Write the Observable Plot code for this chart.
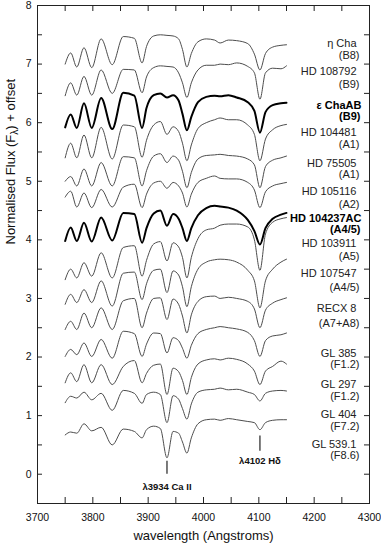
<!DOCTYPE html>
<html>
<head>
<meta charset="utf-8">
<script src="https://cdn.jsdelivr.net/npm/d3@7"></script>
<script src="https://cdn.jsdelivr.net/npm/@observablehq/plot@0.6"></script>
<style>
  html, body { margin: 0; padding: 0; background: #fff; }
  #chart svg { display: block; }
</style>
</head>
<body>
<div id="chart"></div>
<script>
// Wavelength sample points (Angstroms), shared by all spectra
const wave = [3750, 3760, 3771, 3784, 3798, 3815, 3835, 3855, 3875, 3889, 3897, 3910, 3922, 3934, 3945, 3955,
              3962, 3970, 3978, 3990, 4005, 4020, 4030, 4045, 4060, 4080, 4092, 4102, 4112, 4125, 4140, 4150];

// Normalised flux + offset
const fEtaCha   = [7.00,7.19,6.95,7.28,6.94,7.43,6.99,7.47,7.44,7.02,7.30,7.48,7.50,7.49,7.48,7.43,7.25,6.95,7.18,7.38,7.43,7.41,7.36,7.41,7.40,7.35,7.17,6.90,7.18,7.29,7.32,7.33];
const fHD108792 = [6.46,6.68,6.47,6.79,6.47,6.90,6.50,6.91,6.90,6.51,6.78,6.94,6.97,6.96,6.95,6.85,6.68,6.43,6.68,6.90,6.98,6.98,7.00,6.99,7.02,6.96,6.85,6.40,6.85,6.93,6.92,6.97];
const fEpsCha   = [5.92,6.14,5.91,6.33,5.91,6.42,5.89,6.51,6.46,5.91,6.25,6.47,6.50,6.43,6.47,6.38,6.15,5.87,6.10,6.35,6.44,6.46,6.45,6.47,6.43,6.35,6.20,5.83,6.18,6.30,6.33,6.34];
const fHD104481 = [5.40,5.65,5.40,5.79,5.40,5.92,5.38,5.96,5.93,5.41,5.70,5.96,6.02,5.80,5.93,5.85,5.65,5.35,5.62,5.90,6.00,6.05,6.08,6.05,6.05,5.96,5.80,5.35,5.72,5.88,5.95,5.97];
const fHD75505  = [5.00,5.08,4.92,5.21,4.92,5.32,4.92,5.42,5.40,4.92,5.18,5.43,5.47,5.32,5.43,5.36,5.17,4.89,5.15,5.38,5.44,5.45,5.46,5.44,5.43,5.38,5.28,4.89,5.25,5.36,5.40,5.43];
const fHD105116 = [4.73,4.83,4.56,4.80,4.55,4.86,4.56,4.90,4.95,4.55,4.78,4.97,5.00,4.88,4.98,4.92,4.80,4.56,4.78,4.98,5.05,5.09,5.05,5.04,5.04,4.98,4.85,4.55,4.82,4.92,4.96,4.98];
const fHD104237 = [3.98,4.21,3.98,4.29,3.97,4.38,3.99,4.46,4.44,3.95,4.20,4.45,4.50,4.24,4.44,4.36,4.20,3.98,4.20,4.42,4.54,4.58,4.57,4.55,4.50,4.34,4.15,3.92,4.20,4.36,4.43,4.46];
const fHD103911 = [3.32,3.50,3.35,3.61,3.38,3.78,3.35,3.87,3.90,3.38,3.65,3.93,3.97,3.64,3.95,3.88,3.70,3.35,3.70,4.02,4.17,4.20,4.25,4.27,4.27,4.22,4.00,3.48,4.10,4.30,4.36,4.38];
const fHD107547 = [2.90,3.07,2.93,3.15,2.93,3.30,2.87,3.43,3.45,2.98,3.25,3.48,3.50,3.10,3.47,3.40,3.20,2.86,3.20,3.50,3.62,3.66,3.67,3.66,3.62,3.48,3.30,2.84,3.30,3.50,3.62,3.67];
const fRECX8    = [2.47,2.61,2.47,2.75,2.50,2.84,2.47,2.96,3.00,2.50,2.75,3.00,3.01,2.64,2.99,2.90,2.70,2.41,2.72,2.95,3.03,3.04,3.00,3.02,3.00,2.95,2.82,2.50,2.80,2.92,2.98,3.01];
const fGL385    = [2.01,2.13,2.04,2.24,2.01,2.30,1.98,2.44,2.40,2.01,2.22,2.41,2.40,2.07,2.33,2.28,2.15,1.98,2.20,2.40,2.47,2.50,2.52,2.50,2.48,2.42,2.28,2.01,2.28,2.36,2.38,2.41];
const fGL297    = [1.56,1.73,1.58,1.87,1.56,1.87,1.53,1.84,1.94,1.56,1.72,1.86,1.88,1.36,1.81,1.75,1.60,1.36,1.65,1.88,1.95,1.97,1.95,1.98,1.96,1.88,1.76,1.53,1.76,1.84,1.93,1.88];
const fGL404    = [1.22,1.33,1.30,1.40,1.27,1.38,1.09,1.43,1.38,1.21,1.36,1.40,1.36,0.88,1.34,1.28,1.12,0.94,1.20,1.40,1.44,1.45,1.47,1.44,1.45,1.40,1.36,1.25,1.38,1.42,1.43,1.42];
const fGL539    = [0.67,0.72,0.70,0.86,0.74,0.80,0.50,0.77,0.73,0.62,0.76,0.82,0.78,0.28,0.73,0.70,0.55,0.36,0.62,0.86,0.93,0.94,0.92,0.95,0.93,0.90,0.88,0.76,0.88,0.92,0.93,0.93];

const spectra   = [fEtaCha, fHD108792, fEpsCha, fHD104481, fHD75505, fHD105116, fHD104237, fHD103911, fHD107547, fRECX8, fGL385, fGL297, fGL404, fGL539];
const starNames = ["\u03b7 Cha", "HD 108792", "\u03b5 ChaAB", "HD 104481", "HD 75505", "HD 105116", "HD 104237AC", "HD 103911", "HD 107547", "RECX 8", "GL 385", "GL 297", "GL 404", "GL 539.1"];
const spTypes   = ["(B8)", "(B9)", "(B9)", "(A1)", "(A1)", "(A2)", "(A4/5)", "(A5)", "(A4/5)", "(A7+A8)", "(F1.2)", "(F1.2)", "(F7.2)", "(F8.6)"];
const isBold    = [false, false, true, false, false, false, true, false, false, false, false, false, false, false];
// label levels (flux units) for the star name and the spectral type lines
const nameLevel = [7.35, 6.87, 6.30, 5.83, 5.31, 4.82, 4.36, 3.93, 3.43, 2.83, 2.06, 1.54, 1.02, 0.51];
const typeLevel = [7.15, 6.66, 6.11, 5.62, 5.12, 4.61, 4.17, 3.72, 3.19, 2.58, 1.87, 1.33, 0.82, 0.32];

// Line identifications
const lineWave  = [3934, 4102];
const lineFrom  = [0.00, 0.39];
const lineTo    = [0.22, 0.65];
const lineText  = ["\u03bb3934 Ca II", "\u03bb4102 H\u03b4"];
const lineTextY = [-0.21, 0.22];

const xTicks = d3.range(3700, 4301, 100);
const xMinor = d3.range(3700, 4301, 50);
const yTicks = d3.range(0, 9, 1);
const yMinor = d3.range(-0.5, 8.01, 0.5);

const rows = [];
spectra.forEach((s, i) => wave.forEach((w, j) => rows.push({star: starNames[i], bold: isBold[i], w, f: s[j]})));
const labels = starNames.map((n, i) => ({name: n, type: spTypes[i], bold: isBold[i], ny: nameLevel[i], ty: typeLevel[i]}));
const idents = lineWave.map((w, i) => ({w, y1: lineFrom[i], y2: lineTo[i], text: lineText[i], ty: lineTextY[i]}));

const W = 381, H = 549, mL = 37, mR = 12, mT = 5, mB = 46;
const innerW = W - mL - mR, innerH = H - mT - mB;
const font = "Arial, 'Liberation Sans', Helvetica, sans-serif";

const chart = Plot.plot({
  width: W, height: H,
  marginLeft: mL, marginRight: mR, marginTop: mT, marginBottom: mB,
  style: {fontFamily: font, fontSize: "11px", color: "#111", background: "#fff"},
  x: {domain: [3700, 4300]},
  y: {domain: [-0.5, 8]},
  marks: [
    Plot.frame({stroke: "#222", strokeWidth: 1}),
    // inward ticks on all four sides
    Plot.tickX(xMinor, {x: d => d, insetTop: innerH - 6, stroke: "#222"}),
    Plot.tickX(xMinor, {x: d => d, insetBottom: innerH - 6, stroke: "#222"}),
    Plot.tickY(yMinor, {y: d => d, insetRight: innerW - 5, stroke: "#222"}),
    Plot.tickY(yMinor, {y: d => d, insetLeft: innerW - 5, stroke: "#222"}),
    Plot.axisX({ticks: xTicks, tickSize: 0, tickPadding: 10, tickFormat: "d", fontSize: 10.5, label: null}),
    Plot.axisY({ticks: yTicks, tickSize: 0, tickPadding: 6, tickFormat: "d", fontSize: 10.5, label: null}),
    Plot.text(["wavelength (Angstroms)"], {frameAnchor: "bottom", dy: 36, fontSize: 13, fill: "#111"}),
    Plot.text(["Normalised Flux (F\u03bb) + offset"], {frameAnchor: "left", rotate: -90, dx: -27, dy: -10, fontSize: 13, fill: "#111"}),
    // spectra
    Plot.line(rows.filter(d => !d.bold), {x: "w", y: "f", z: "star", stroke: "#4d4d4d", strokeWidth: 1, curve: "monotone-x"}),
    Plot.line(rows.filter(d => d.bold), {x: "w", y: "f", z: "star", stroke: "#000", strokeWidth: 2, curve: "monotone-x"}),
    // star labels
    Plot.text(labels.filter(d => !d.bold), {y: "ny", text: "name", frameAnchor: "right", dx: -13, textAnchor: "end", fontSize: 11, fill: "#222"}),
    Plot.text(labels.filter(d => !d.bold), {y: "ty", text: "type", frameAnchor: "right", dx: -10, textAnchor: "end", fontSize: 11, fill: "#222"}),
    Plot.text(labels.filter(d => d.bold), {y: "ny", text: "name", frameAnchor: "right", dx: -8, textAnchor: "end", fontSize: 11, fontWeight: "bold", fill: "#000"}),
    Plot.text(labels.filter(d => d.bold), {y: "ty", text: "type", frameAnchor: "right", dx: -9, textAnchor: "end", fontSize: 11, fontWeight: "bold", fill: "#000"}),
    // line identifications
    Plot.ruleX(idents, {x: "w", y1: "y1", y2: "y2", stroke: "#222", strokeWidth: 1.2}),
    Plot.text(idents, {x: "w", y: "ty", text: "text", fontSize: 9.5, fontWeight: "bold", fill: "#111"})
  ]
});

// subscript lambda in the y-axis title
d3.select(chart).selectAll("text").each(function() {
  if (this.textContent === "Normalised Flux (F\u03bb) + offset") {
    const t = d3.select(this);
    t.text(null);
    t.append("tspan").text("Normalised Flux (F");
    t.append("tspan").attr("dy", 3).attr("font-size", 10).text("\u03bb");
    t.append("tspan").attr("dy", -3).text(") + offset");
  }
});

document.getElementById("chart").appendChild(chart);
</script>
</body>
</html>
